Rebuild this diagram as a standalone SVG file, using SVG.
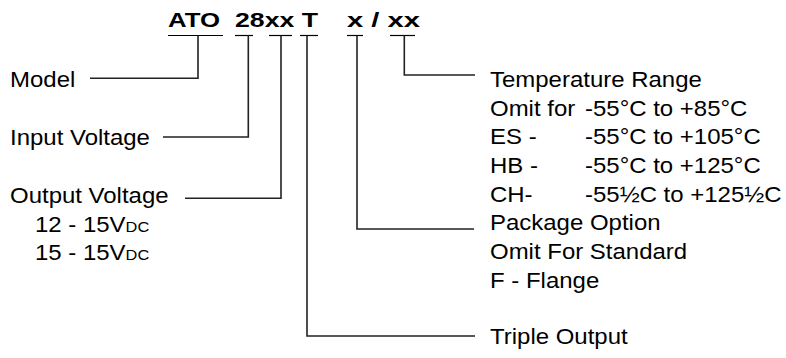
<svg xmlns="http://www.w3.org/2000/svg" width="786" height="358" viewBox="0 0 786 358">
<style>
text{font-family:"Liberation Sans",Arial,sans-serif;fill:#000}
.t{font-size:22px}
.b{font-size:21px;font-weight:bold}
.sc{font-size:15px}
.u{stroke:#000;stroke-width:1.2;fill:none}
.c{stroke:#222;stroke-width:1.6;fill:none}
</style>
<rect width="786" height="358" fill="#fff"/>
<g id="part-number">
<text class="b" x="168" y="27" textLength="52" lengthAdjust="spacingAndGlyphs">ATO</text>
<text class="b" x="235" y="27" textLength="83" lengthAdjust="spacingAndGlyphs">28xx T</text>
<text class="b" x="347" y="27" textLength="73" lengthAdjust="spacingAndGlyphs">x / xx</text>
<line class="u" x1="168" y1="35.5" x2="223" y2="35.5"/>
<line class="u" x1="235" y1="35.5" x2="253" y2="35.5"/>
<line class="u" x1="269" y1="35.5" x2="292" y2="35.5"/>
<line class="u" x1="300" y1="35.5" x2="318" y2="35.5"/>
<line class="u" x1="347" y1="35.5" x2="363" y2="35.5"/>
<line class="u" x1="390" y1="35.5" x2="415" y2="35.5"/>
</g>
<g id="model"><text class="t" transform="translate(10 87) scale(1.09 1)">Model</text></g>
<g id="input-voltage"><text class="t" transform="translate(10 144.5) scale(1.09 1)">Input Voltage</text></g>
<g id="output-voltage">
<text class="t" transform="translate(10 203) scale(1.09 1)">Output Voltage</text>
<text class="t" transform="translate(35 231.5) scale(1.09 1)">12 - 15V<tspan class="sc">DC</tspan></text>
<text class="t" transform="translate(35 260) scale(1.09 1)">15 - 15V<tspan class="sc">DC</tspan></text>
</g>
<g id="temperature-range">
<text class="t" transform="translate(490 87) scale(1.09 1)">Temperature Range</text>
<text class="t" transform="translate(490 115.7) scale(1.09 1)">Omit for</text><text class="t" transform="translate(585 115.7) scale(1.09 1)">-55°C to +85°C</text>
<text class="t" transform="translate(490 144.3) scale(1.09 1)">ES -</text><text class="t" transform="translate(585 144.3) scale(1.09 1)">-55°C to +105°C</text>
<text class="t" transform="translate(490 173) scale(1.09 1)">HB -</text><text class="t" transform="translate(585 173) scale(1.09 1)">-55°C to +125°C</text>
<text class="t" transform="translate(490 201.7) scale(1.09 1)">CH-</text><text class="t" transform="translate(585 201.7) scale(1.09 1)">-55½C to +125½C</text>
</g>
<g id="package-option">
<text class="t" transform="translate(490 230.3) scale(1.09 1)">Package Option</text>
<text class="t" transform="translate(490 259) scale(1.09 1)">Omit For Standard</text>
<text class="t" transform="translate(490 287.7) scale(1.09 1)">F - Flange</text>
</g>
<g id="triple-output"><text class="t" transform="translate(490 344.3) scale(1.09 1)">Triple Output</text></g>
<g id="connectors">
<polyline class="c" points="198,35.5 198,78.3 90,78.3"/>
<polyline class="c" points="248.3,35.5 248.3,137 163,137"/>
<polyline class="c" points="281,35.5 281,198.3 185,198.3"/>
<polyline class="c" points="307,35.5 307,336 475,336"/>
<polyline class="c" points="357,35.5 357,229 474,229"/>
<polyline class="c" points="404.3,35.5 404.3,75 475,75"/>
</g>
</svg>
